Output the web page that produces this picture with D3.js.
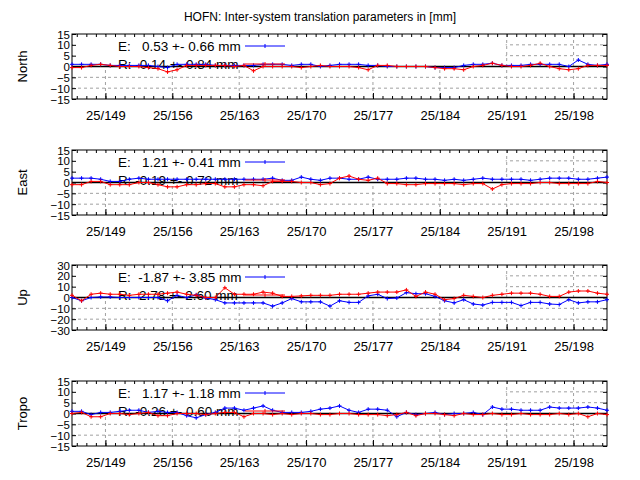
<!DOCTYPE html>
<html><head><meta charset="utf-8">
<script src="https://cdn.jsdelivr.net/npm/d3@7"></script>
<style>body{margin:0;background:#fff}svg text{font-family:"Liberation Sans",Arial,sans-serif;}</style>
</head><body>
<svg id="c" width="640" height="480"></svg>
<script>
const title = "HOFN: Inter-system translation parameters in [mm]";
const panelNames = ["North","East","Up","Tropo"];
const tickDays = [149,156,163,170,177,184,191,198];
const tickLabels = ["25/149","25/156","25/163","25/170","25/177","25/184","25/191","25/198"];
const yRanges = [[-15,15],[-15,15],[-30,30],[-15,15]];
const yTicks = [[-15,-10,-5,0,5,10,15],[-15,-10,-5,0,5,10,15],[-30,-20,-10,0,10,20,30],[-15,-10,-5,0,5,10,15]];
const legendE = ["E:   0.53 +- 0.66 mm","E:   1.21 +- 0.41 mm","E:  -1.87 +- 3.85 mm","E:   1.17 +- 1.18 mm"];
const legendR = ["R: -0.14 +- 0.84 mm","R: -0.19 +- 0.72 mm","R:  2.78 +- 2.60 mm","R: -0.26 +- 0.60 mm"];
const northE = [1,1,1,1,0.5,0.5,0.5,0.5,0.5,0,-0.5,1,1,1,1,0.5,0.5,0.5,0.5,0.5,1,1,1,0.5,1,1,0,0.5,1,1,1,0.5,0.5,0,0,0,0,0,-0.5,-0.5,-0.5,0.5,1,1,1.5,0.5,0.5,0.5,1,1,1,1,0,3,1,0.5,1];
const northR = [-0.5,-0.5,0.5,1,0.5,0,0,0,-0.5,-1,-2.5,-1.5,0.5,0.5,0.5,0.5,0.5,0,0.5,-2,0,0,0,0,-0.5,0,0.5,0,0,0,-0.5,-1.5,0.5,0.5,0,0,0,0,-0.5,-1,-1,-1.5,0,0.5,1.5,0.5,0,0,0.5,1.5,0,-1,-1.5,-1,0.5,0.5,0.5];
const eastE = [2,2,2,1.5,0.5,0.5,1.5,2,1.5,1.5,1.5,1.5,1.5,1.5,1.5,1.5,1.5,1.5,1.5,1.5,1.5,2,1,1,2.5,1.5,1,2,2,1.5,1.5,2.5,1.5,1.5,1.5,2,2,1.5,1.5,1,1.5,1,1.5,2,1.5,1.5,1.5,1.5,1,1.5,2,2,2,1.5,1.5,2,2.5];
const eastR = [-1,-1,0.5,0.5,-1,-1,-1,0,0,-1,-2,-2,-1,-1,-0.5,-0.5,-2,-2,-1,-1,-1.5,0.5,0.5,0.5,0,0,-1,-0.5,2,3,1.5,1,2,-0.5,-0.5,-1,-1,-0.5,-0.5,-0.5,-0.5,-1,-0.5,-0.5,-3,-1,-0.5,-0.5,-0.5,0,0,-0.5,-0.5,-0.5,-0.5,0.5,0];
const upE = [0,-3,0,0.5,0.5,0,0,0,0,0,-3,2,0,2.5,-0.5,-2,-5,-5,-5,-5,-5,-8,-5,-1,-4,-4,-4,-8,-3,-4.5,-4.5,1.5,3,-1,-0.5,4.5,3.5,3.5,1,-3,-5,-2,-6,-7,-4.5,-4.5,-4.5,-7.5,-4.5,-4.5,-6,-6.5,-2,-5,-4,-4,-2];
const upR = [2,-3,3,4,3,3,2,3,3,3,4,5,3,2,0,0,9,3,3,3,5,4,1,1,1.5,2,2,2,3,3,3,4,5,5,5,7,1,5,3,-2,-1,2,1,0,2,3,4,4,4,3,1,1,5,6,6,4,3,2,8,5];
const tropoE = [1,1,-0.5,0.5,0.5,1,1.5,1.5,0.5,1,0.5,0.5,-1,-2,-0.5,0.5,2.5,2.5,1.5,2.5,3.5,1.5,0.5,0.5,0.5,1,2,2.5,3.5,1.5,0.5,2,2,1.5,-1.5,0.5,-0.5,0,0.5,-0.5,0,0,0.5,-0.5,3,2,2,1.5,1.5,1.5,3,2.5,2.5,2.5,3,2.5,1.5];
const tropoR = [0,0.5,-1.5,-1.5,0,0,-0.5,0,0.5,-1,-1,0,0,0,-0.5,0,0.5,0.5,-1.5,0,0,-0.5,0,-0.5,0,0,-0.5,-0.5,0,0,-0.5,-0.5,-0.5,-1,-0.5,0.5,-1,0,0,-0.5,-1,0,-0.5,-0.5,0,-0.5,-0.5,0,-0.5,-0.5,-0.5,0,-0.5,0,-1.5,0,-0.5];
const seriesE = [northE,eastE,upE,tropoE];
const seriesR = [northR,eastR,upR,tropoR];
const firstDay = 145.5;

const svg = d3.select("#c");
svg.append("text").attr("x",320).attr("y",21).attr("text-anchor","middle").attr("font-size",12).text(title);
const x = d3.scaleLinear().domain([145.5,201.5]).range([72,607]);
const tops = [34,150,265,381], H = 65;
const minorDays = d3.range(146,202);

panelNames.forEach((name,i)=>{
  const g = svg.append("g");
  const y = d3.scaleLinear().domain(yRanges[i]).range([tops[i]+H,tops[i]]);
  const yg = yTicks[i].filter(v=>v!==yRanges[i][0]&&v!==yRanges[i][1]&&v!==0);
  g.selectAll(".gy").data(yg).join("line").attr("x1",72).attr("x2",607)
    .attr("y1",d=>y(d)).attr("y2",d=>y(d)).attr("stroke","#a0a0a0").attr("stroke-dasharray","3,3");
  g.selectAll(".gx").data(tickDays).join("line").attr("x1",d=>x(d)).attr("x2",d=>x(d))
    .attr("y1",tops[i]).attr("y2",tops[i]+H).attr("stroke","#a0a0a0").attr("stroke-dasharray","3,3");
  g.append("rect").attr("x",73).attr("y",tops[i]+1).attr("width",x(191)-74).attr("height",y(0)-tops[i]-1).attr("fill","#fff");
  const ya = d3.axisLeft(y).tickValues(yTicks[i]).tickSize(-4).tickPadding(2);
  g.append("g").attr("transform","translate(72,0)").call(ya).call(s=>{s.select(".domain").remove();s.selectAll("text").attr("font-size",11.5).attr("dy","0.36em").attr("fill","#000");s.selectAll("line").attr("stroke","#000");});
  g.append("g").attr("transform","translate(607,0)").call(d3.axisRight(y).tickValues(yTicks[i]).tickSize(-4).tickFormat("")).call(s=>s.select(".domain").remove());
  g.append("g").attr("transform",`translate(0,${tops[i]+H})`).call(d3.axisBottom(x).tickValues(tickDays).tickFormat((d,j)=>tickLabels[j]).tickSize(-6).tickPadding(12))
    .call(s=>{s.select(".domain").remove();s.selectAll("text").attr("font-size",13).attr("fill","#000");});
  g.append("g").attr("transform",`translate(0,${tops[i]+H})`).call(d3.axisBottom(x).tickValues(minorDays).tickFormat("").tickSize(-3)).call(s=>s.select(".domain").remove());
  g.append("g").attr("transform",`translate(0,${tops[i]})`).call(d3.axisTop(x).tickValues(minorDays).tickFormat("").tickSize(-3)).call(s=>s.select(".domain").remove());
  g.append("line").attr("x1",72).attr("x2",607).attr("y1",y(0)).attr("y2",y(0)).attr("stroke","#000").attr("stroke-width",1.3);
  g.append("rect").attr("x",72).attr("y",tops[i]).attr("width",535).attr("height",H).attr("fill","none").attr("stroke","#000");
  g.append("text").attr("transform",`translate(27,${tops[i]+H/2}) rotate(-90)`).attr("text-anchor","middle").attr("font-size",13).text(name);
  const l1 = tops[i]+17, l2 = tops[i]+35;
  g.append("text").attr("x",118).attr("y",l1).attr("font-size",13.5).text(legendE[i]).style("white-space","pre");
  g.append("text").attr("x",118).attr("y",l2).attr("font-size",13.5).text(legendR[i]).style("white-space","pre");
  [[seriesE[i],"#0000ff",l1-5],[seriesR[i],"#ff0000",l2-5]].forEach(([data,col,ly])=>{
    g.append("line").attr("x1",245).attr("x2",285).attr("y1",ly).attr("y2",ly).attr("stroke",col);
    g.append("line").attr("x1",265).attr("x2",265).attr("y1",ly-2).attr("y2",ly+2).attr("stroke",col);
    const pts = data.map((v,k)=>[x(firstDay+k),y(v)]).filter(p=>p[0]<=607);
    g.append("path").attr("d",d3.line()(pts)).attr("fill","none").attr("stroke",col);
    g.selectAll(null).data(pts).join("path").attr("d",p=>`M${p[0]-2},${p[1]}h4M${p[0]},${p[1]-2}v4`).attr("stroke",col);
  });
});
</script>
</body></html>
